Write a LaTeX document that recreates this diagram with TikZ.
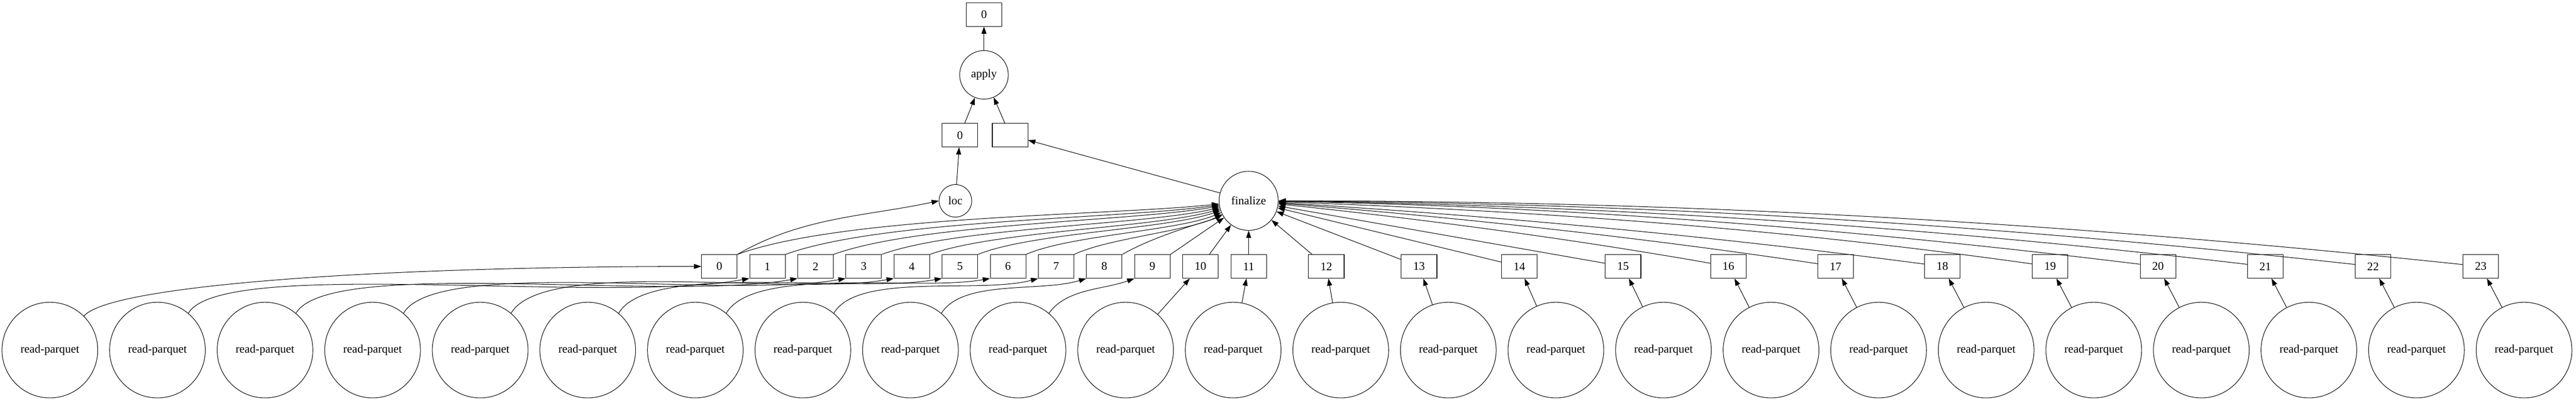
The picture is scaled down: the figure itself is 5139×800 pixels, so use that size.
\documentclass[tikz,border=0pt]{standalone}
\usepackage{fontspec}
\setmainfont{Liberation Serif}
\usetikzlibrary{arrows.meta}

\begin{document}
\begin{tikzpicture}[x=0.02cm, y=0.02cm,
    font=\fontsize{13.2}{15}\selectfont,
    chunk/.style={draw, rectangle, minimum width=1.42cm, minimum height=0.94cm, inner sep=0pt, line width=0.6pt},
    task/.style={draw, circle, inner sep=0pt, line width=0.6pt},
    edge/.style={-{Triangle[length=0.29cm, width=0.2cm]}, line width=0.6pt}]
    \useasboundingbox (0,0) rectangle (5139,800);
    \node[chunk] at (1963, 771) (out) {0};
    \node[task, minimum size=1.94cm] at (1963, 650.5) (apply) {apply};
    \node[chunk] at (1915, 530) (key) {0};
    \node[chunk] at (2015, 530) (meta) {};
    \node[task, minimum size=1.3cm] at (1906, 399) (loc) {loc};
    \node[task, minimum size=2.36cm] at (2491, 399) (fin) {finalize};
    \node[chunk] at (1435, 268) (c0) {0};
    \node[chunk] at (1531, 268) (c1) {1};
    \node[chunk] at (1627, 268) (c2) {2};
    \node[chunk] at (1723, 268) (c3) {3};
    \node[chunk] at (1819, 268) (c4) {4};
    \node[chunk] at (1915, 268) (c5) {5};
    \node[chunk] at (2011, 268) (c6) {6};
    \node[chunk] at (2107, 268) (c7) {7};
    \node[chunk] at (2203, 268) (c8) {8};
    \node[chunk] at (2299, 268) (c9) {9};
    \node[chunk] at (2395, 268) (c10) {10};
    \node[chunk] at (2491, 268) (c11) {11};
    \node[chunk] at (2646, 268) (c12) {12};
    \node[chunk] at (2831, 268) (c13) {13};
    \node[chunk] at (3031, 268) (c14) {14};
    \node[chunk] at (3238, 268) (c15) {15};
    \node[chunk] at (3448, 268) (c16) {16};
    \node[chunk] at (3662, 268) (c17) {17};
    \node[chunk] at (3875, 268) (c18) {18};
    \node[chunk] at (4090, 268) (c19) {19};
    \node[chunk] at (4305, 268) (c20) {20};
    \node[chunk] at (4519, 268) (c21) {21};
    \node[chunk] at (4734, 268) (c22) {22};
    \node[chunk] at (4949, 268) (c23) {23};
    \node[task, minimum size=3.82cm] at (99.5, 101) (rp0) {read-parquet};
    \node[task, minimum size=3.82cm] at (314.1, 101) (rp1) {read-parquet};
    \node[task, minimum size=3.82cm] at (528.7, 101) (rp2) {read-parquet};
    \node[task, minimum size=3.82cm] at (743.3, 101) (rp3) {read-parquet};
    \node[task, minimum size=3.82cm] at (957.9, 101) (rp4) {read-parquet};
    \node[task, minimum size=3.82cm] at (1172.5, 101) (rp5) {read-parquet};
    \node[task, minimum size=3.82cm] at (1387.1, 101) (rp6) {read-parquet};
    \node[task, minimum size=3.82cm] at (1601.7, 101) (rp7) {read-parquet};
    \node[task, minimum size=3.82cm] at (1816.3, 101) (rp8) {read-parquet};
    \node[task, minimum size=3.82cm] at (2030.9, 101) (rp9) {read-parquet};
    \node[task, minimum size=3.82cm] at (2245.5, 101) (rp10) {read-parquet};
    \node[task, minimum size=3.82cm] at (2460.1, 101) (rp11) {read-parquet};
    \node[task, minimum size=3.82cm] at (2674.7, 101) (rp12) {read-parquet};
    \node[task, minimum size=3.82cm] at (2889.3, 101) (rp13) {read-parquet};
    \node[task, minimum size=3.82cm] at (3103.9, 101) (rp14) {read-parquet};
    \node[task, minimum size=3.82cm] at (3318.5, 101) (rp15) {read-parquet};
    \node[task, minimum size=3.82cm] at (3533.1, 101) (rp16) {read-parquet};
    \node[task, minimum size=3.82cm] at (3747.7, 101) (rp17) {read-parquet};
    \node[task, minimum size=3.82cm] at (3962.3, 101) (rp18) {read-parquet};
    \node[task, minimum size=3.82cm] at (4176.9, 101) (rp19) {read-parquet};
    \node[task, minimum size=3.82cm] at (4391.5, 101) (rp20) {read-parquet};
    \node[task, minimum size=3.82cm] at (4606.1, 101) (rp21) {read-parquet};
    \node[task, minimum size=3.82cm] at (4820.7, 101) (rp22) {read-parquet};
    \node[task, minimum size=3.82cm] at (5035.3, 101) (rp23) {read-parquet};
    \draw[edge] (apply) -- (out);
    \draw[edge] (key) -- (apply);
    \draw[edge] (meta) -- (apply);
    \draw[edge] (loc) -- (key);
    \draw[edge] (fin) -- (meta);
    \draw[edge] (c0.north east) .. controls +(30:150) and +(192:150) .. (loc.west);
    \draw[edge] (c0.north east) to[out=20, in=186, looseness=0.6] (fin);
    \draw[edge] (c1.north east) to[out=20, in=188, looseness=0.6] (fin);
    \draw[edge] (c2.north east) to[out=20, in=190, looseness=0.6] (fin);
    \draw[edge] (c3.north east) to[out=20, in=193, looseness=0.6] (fin);
    \draw[edge] (c4.north east) to[out=20, in=196, looseness=0.6] (fin);
    \draw[edge] (c5.north east) to[out=22, in=199, looseness=0.6] (fin);
    \draw[edge] (c6.north east) to[out=24, in=203, looseness=0.6] (fin);
    \draw[edge] (c7.north east) to[out=26, in=207, looseness=0.6] (fin);
    \draw[edge] (c8.north east) .. controls +(30:80) and +(208:80) .. (fin);
    \draw[edge] (c9.north east) -- (fin);
    \draw[edge] (c10) -- (fin);
    \draw[edge] (c11) -- (fin);
    \draw[edge] (c12) -- (fin);
    \draw[edge] (c13) -- (fin);
    \draw[edge] (c14) -- (fin);
    \draw[edge] (c15) -- (fin);
    \draw[edge] (c16) .. controls +(170:330) and +(-6:330) .. (fin);
    \draw[edge] (c17) .. controls +(171.5:400) and +(-4.5:400) .. (fin);
    \draw[edge] (c18) .. controls +(172.5:480) and +(-3.5:480) .. (fin);
    \draw[edge] (c19) .. controls +(172:560) and +(-2:560) .. (fin);
    \draw[edge] (c20) .. controls +(173:630) and +(-1:630) .. (fin);
    \draw[edge] (c21) .. controls +(173.3:700) and +(-0.7:700) .. (fin);
    \draw[edge] (c22) .. controls +(173.7:780) and +(-0.3:780) .. (fin);
    \draw[edge] (c23) .. controls +(174:860) and +(0:860) .. (fin);
    \draw[edge] (rp0.45) .. controls +(50:80) and +(180:650) .. (c0.west);
    \draw[edge] (rp1.50) .. controls +(60:130) and +(190:300) .. (c1.south west);
    \draw[edge] (rp2.50) .. controls +(60:130) and +(190:270) .. (c2.south west);
    \draw[edge] (rp3.50) .. controls +(60:130) and +(190:240) .. (c3.south west);
    \draw[edge] (rp4.50) .. controls +(60:130) and +(190:210) .. (c4.south west);
    \draw[edge] (rp5.50) .. controls +(60:120) and +(190:180) .. (c5.south west);
    \draw[edge] (rp6.50) .. controls +(60:110) and +(190:150) .. (c6.south west);
    \draw[edge] (rp7.50) .. controls +(60:95) and +(195:120) .. (c7.south west);
    \draw[edge] (rp8.50) .. controls +(58:80) and +(197:95) .. (c8.south west);
    \draw[edge] (rp9.50) .. controls +(55:60) and +(200:65) .. (c9.south west);
    \draw[edge] (rp10) -- (c10);
    \draw[edge] (rp11) -- (c11);
    \draw[edge] (rp12) -- (c12);
    \draw[edge] (rp13) -- (c13);
    \draw[edge] (rp14) -- (c14);
    \draw[edge] (rp15) -- (c15);
    \draw[edge] (rp16) -- (c16);
    \draw[edge] (rp17) -- (c17);
    \draw[edge] (rp18) -- (c18);
    \draw[edge] (rp19) -- (c19);
    \draw[edge] (rp20) -- (c20);
    \draw[edge] (rp21) -- (c21);
    \draw[edge] (rp22) -- (c22);
    \draw[edge] (rp23) -- (c23);
\end{tikzpicture}
\end{document}
